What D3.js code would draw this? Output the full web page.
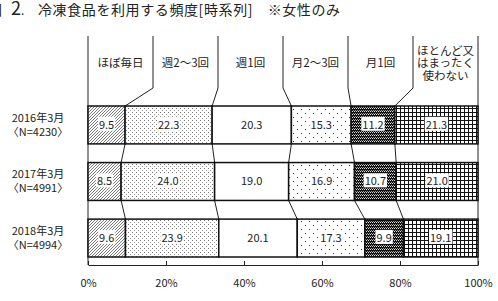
<!DOCTYPE html>
<html>
<head>
<meta charset="utf-8">
<script src="https://cdn.jsdelivr.net/npm/d3@7"></script>
<style>
  body { margin: 0; background: #fff; }
  svg { display: block; }
  text { font-family: "Noto Sans CJK JP", "Noto Sans", sans-serif; fill: #222; }
</style>
</head>
<body>
<svg id="chart" width="498" height="301"></svg>
<script>
// categories (answer choices) and rows (survey waves)
var categories = ['ほぼ毎日', '週2～3回', '週1回', '月2～3回', '月1回', 'ほとんど又|はまったく|使わない'];
var rows = ['2016年3月', '2017年3月', '2018年3月'];
var rowN = ['〈N=4230〉', '〈N=4991〉', '〈N=4994〉'];
var v2016 = [9.5, 22.3, 20.3, 15.3, 11.2, 21.3];
var v2017 = [8.5, 24.0, 19.0, 16.9, 10.7, 21.0];
var v2018 = [9.6, 23.9, 20.1, 17.3, 9.9, 19.1];
var tickValues = [0, 20, 40, 60, 80, 100];

var series = [v2016, v2017, v2018];

var svg = d3.select('#chart');

var x = d3.scaleLinear().domain([0, 100]).range([88, 478]);
var y = d3.scaleBand().domain(rows).range([106, 257]).paddingInner(0.33).paddingOuter(0);

//fill patterns, one per answer choice
var defs = svg.append('defs');

var p = defs.append('pattern').attr('id', 'p0').attr('patternUnits', 'userSpaceOnUse')
    .attr('width', 3).attr('height', 3);
p.append('rect').attr('width', 3).attr('height', 3).attr('fill', '#fff');
p.append('path').attr('d', 'M-1,1 L1,-1 M0,3 L3,0 M2,4 L4,2').attr('stroke', '#444').attr('stroke-width', 0.7);

p = defs.append('pattern').attr('id', 'p1').attr('patternUnits', 'userSpaceOnUse')
    .attr('width', 4).attr('height', 4);
p.append('rect').attr('width', 4).attr('height', 4).attr('fill', '#fff');
p.append('rect').attr('x', 0).attr('y', 0).attr('width', 1).attr('height', 1).attr('fill', '#777');
p.append('rect').attr('x', 2).attr('y', 2).attr('width', 1).attr('height', 1).attr('fill', '#999');

p = defs.append('pattern').attr('id', 'p2').attr('patternUnits', 'userSpaceOnUse')
    .attr('width', 4).attr('height', 4);
p.append('rect').attr('width', 4).attr('height', 4).attr('fill', '#fff');

p = defs.append('pattern').attr('id', 'p3').attr('patternUnits', 'userSpaceOnUse')
    .attr('width', 8).attr('height', 8);
p.append('rect').attr('width', 8).attr('height', 8).attr('fill', '#fff');
p.append('rect').attr('x', 1).attr('y', 1).attr('width', 1).attr('height', 1).attr('fill', '#333');
p.append('rect').attr('x', 5).attr('y', 5).attr('width', 1).attr('height', 1).attr('fill', '#333');

p = defs.append('pattern').attr('id', 'p4').attr('patternUnits', 'userSpaceOnUse')
    .attr('width', 2).attr('height', 3);
p.append('rect').attr('width', 2).attr('height', 3).attr('fill', '#111');
p.append('rect').attr('x', 0).attr('y', 0).attr('width', 1).attr('height', 1).attr('fill', '#ddd');
p.append('rect').attr('x', 1).attr('y', 2).attr('width', 1).attr('height', 1).attr('fill', '#999');

p = defs.append('pattern').attr('id', 'p5').attr('patternUnits', 'userSpaceOnUse')
    .attr('width', 4).attr('height', 4);
p.append('rect').attr('width', 4).attr('height', 4).attr('fill', '#fff');
p.append('rect').attr('x', 0).attr('y', 0).attr('width', 1).attr('height', 4).attr('fill', '#111');
p.append('rect').attr('x', 0).attr('y', 0).attr('width', 4).attr('height', 1).attr('fill', '#111');

//title, the first glyph is cut off by the left edge like the source image
var title = svg.append('text').attr('x', -12).attr('y', 15).attr('font-size', 14);
title.append('tspan').text('図');
title.append('tspan').attr('x', 11).attr('font-size', 18).text('2');
title.append('tspan').attr('font-size', 12).text('.');
title.append('tspan').attr('x', 38).attr('letter-spacing', 0.6).text('冷凍食品を利用する頻度[時系列]　※女性のみ');

//stack each row, scaled so it fills to 100%
var stacks = series.map(function(vals) {
    var total = d3.sum(vals), acc = 0;
    return vals.map(function(v, i) {
        var s = acc;
        acc += v / total * 100;
        return { i: i, v: v, x0: s, x1: acc };
    });
});

var colW = 100 / categories.length;
var headTop = 36, headBottom = 88;

//header columns and their lead lines to the first bar
var lines = svg.append('g').attr('stroke', '#222').attr('stroke-width', 1).attr('fill', 'none');
lines.append('line').attr('x1', x(0)).attr('x2', x(0)).attr('y1', headTop).attr('y2', 265);
lines.append('line').attr('x1', x(100)).attr('x2', x(100)).attr('y1', headTop).attr('y2', 265);
for (var k = 1; k < categories.length; k++) {
    lines.append('polyline').attr('points', [
        [x(k * colW), headTop],
        [x(k * colW), headBottom],
        [x(stacks[0][k - 1].x1), y(rows[0])]
    ].join(' '));
}

//lead lines between bars
for (var r = 0; r < rows.length - 1; r++) {
    for (var k2 = 0; k2 < categories.length - 1; k2++) {
        lines.append('line')
            .attr('x1', x(stacks[r][k2].x1)).attr('y1', y(rows[r]) + y.bandwidth())
            .attr('x2', x(stacks[r + 1][k2].x1)).attr('y2', y(rows[r + 1]));
    }
}

var heads = svg.append('g').attr('font-size', 11.5).attr('text-anchor', 'middle');
categories.forEach(function(c, i) {
    var parts = c.split('|');
    var t = heads.append('text').attr('x', x((i + 0.5) * colW));
    parts.forEach(function(s, j) {
        t.append('tspan').attr('x', x((i + 0.5) * colW))
            .attr('y', 63 + (j - (parts.length - 1) / 2) * 12.5)
            .attr('dy', '0.35em').text(s);
    });
});

//bars
rows.forEach(function(rw, r) {
    var g = svg.append('g');
    g.selectAll('rect').data(stacks[r]).enter().append('rect')
        .attr('x', function(d) { return x(d.x0); })
        .attr('y', y(rw))
        .attr('width', function(d) { return x(d.x1) - x(d.x0); })
        .attr('height', y.bandwidth())
        .attr('fill', function(d) { return 'url(#p' + d.i + ')'; })
        .attr('stroke', '#111')
        .attr('stroke-width', 1.5);

    var lab = g.selectAll('g.lab').data(stacks[r]).enter().append('g').attr('class', 'lab');
    lab.append('text')
        .attr('x', function(d) { return x((d.x0 + d.x1) / 2); })
        .attr('y', y(rw) + y.bandwidth() / 2)
        .attr('dy', '0.35em')
        .attr('text-anchor', 'middle')
        .attr('font-size', 11)
        .text(function(d) { return d3.format('.1f')(d.v); });
    lab.each(function() {
        var t = d3.select(this).select('text');
        var b = t.node().getBBox();
        d3.select(this).insert('rect', 'text')
            .attr('x', b.x - 1).attr('y', b.y + 1).attr('width', b.width + 2).attr('height', b.height - 2)
            .attr('fill', '#fff');
    });

    var rl = svg.append('g').attr('font-size', 11).attr('text-anchor', 'middle');
    rl.append('text').attr('x', 38).attr('y', y(rw) + y.bandwidth() / 2 - 7).attr('dy', '0.35em').text(rw);
    rl.append('text').attr('x', 38).attr('y', y(rw) + y.bandwidth() / 2 + 7).attr('dy', '0.35em').text(rowN[r]);
});

//percent axis
var axis = svg.append('g').attr('transform', 'translate(0,265)')
    .call(d3.axisBottom(x).tickValues(tickValues).tickFormat(function(d) { return d + '%'; })
        .tickSizeInner(-4).tickSizeOuter(0).tickPadding(14));
axis.select('.domain').attr('stroke', '#222');
axis.selectAll('.tick line').attr('stroke', '#222');
axis.selectAll('.tick text').attr('font-size', 11).attr('fill', '#222')
    .attr('font-family', '"Noto Sans CJK JP", sans-serif');
</script>
</body>
</html>
